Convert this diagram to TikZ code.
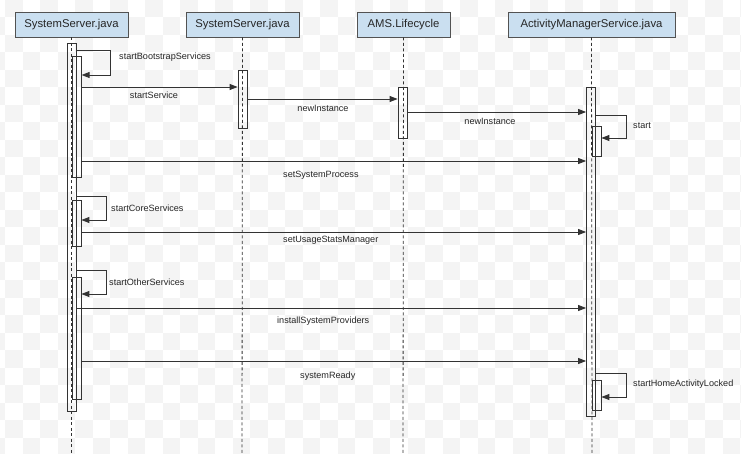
\documentclass[tikz,border=0pt]{standalone}
\usepackage{fontspec}
\setmainfont{Liberation Sans}
\usetikzlibrary{arrows.meta}
\definecolor{hdrfill}{HTML}{CADFF0}
\definecolor{ln}{HTML}{333333}
\definecolor{chk}{HTML}{F4F4F4}
\tikzset{
  hdr/.style={draw=ln!85, fill=hdrfill, line width=0.9pt, inner sep=0pt, minimum height=25, font=\fontsize{11.3}{13}\selectfont, text=black!85},
  life/.style={draw=ln, line width=0.8pt, dash pattern=on 3pt off 2.5pt},
  bar/.style={draw=ln, line width=0.8pt, inner sep=0pt, minimum width=9, rectangle},
  msg/.style={draw=ln, line width=0.9pt, -{Triangle[length=8pt,width=6pt]}},
  lbl/.style={font=\fontsize{9.1}{11}\selectfont, text=black!85, inner sep=0pt}
}
\begin{document}
\begin{tikzpicture}[x=1pt,y=-1pt]
\useasboundingbox (0,0) rectangle (741,454);
\fill[white] (0,0) rectangle (741,454);
% faint checker background
\begin{scope}
\clip (0,0) rectangle (741,454);
\foreach \i in {-1,...,42}{
  \foreach \j in {0,...,25}{
    \pgfmathtruncatemacro{\chkpar}{mod(\i+\j+2,2)}
    \ifnum\chkpar=0 \fill[chk] (5+\i*17.5,\j*17.5) rectangle ++(17.5,17.5); \fi
  }
}
\end{scope}
% headers
\node[hdr, minimum width=113] (h1) at (71.5,24.5) {SystemServer.java};
\node[hdr, minimum width=113] (h2) at (242.5,24.5) {SystemServer.java};
\node[hdr, minimum width=93] (h3) at (403.5,24.5) {AMS.Lifecycle};
\node[hdr, minimum width=167] (h4) at (591.5,24.5) {ActivityManagerService.java};
% lifeline ends
\coordinate (e1) at (71.5,454);
\coordinate (e2) at (242,454);
\coordinate (e3) at (403,454);
\coordinate (e4) at (592,454);
\draw[life] (h1.south) -- (e1);
\draw[life] (h2.south) -- (e2);
\draw[life] (h3.south) -- (e3);
\draw[life] (h4.south) -- (e4);
% activation bars
\node[bar, minimum height=368] (o1) at (72,227) {};
\node[bar, minimum height=121] (a1) at (76.7,116.5) {};
\node[bar, minimum height=46] (a2) at (76.5,223) {};
\node[bar, minimum height=122] (a3) at (76.5,338) {};
\node[bar, minimum height=58] (b2) at (242.5,99) {};
\node[bar, minimum height=51] (b3) at (402.5,112.5) {};
\node[bar, minimum height=329] (b4) at (591,251.5) {};
\node[bar, minimum height=30] (s1) at (596.5,141) {};
\node[bar, minimum height=30] (s2) at (596.5,395) {};
% self calls
\draw[msg] (o1.east |- 0,50) -| (110,75) -- (a1.east |- 0,75);
\node[lbl, anchor=west] (l1) at (119,57) {startBootstrapServices};
\draw[msg] (o1.east |- 0,196) -| (106,220) -- (a2.east |- 0,220);
\node[lbl, anchor=west] (l2) at (111,208) {startCoreServices};
\draw[msg] (o1.east |- 0,270) -| (106,294) -- (a3.east |- 0,294);
\node[lbl, anchor=west] (l3) at (109,282) {startOtherServices};
\draw[msg] (b4.east |- 0,115) -| (626,138) -- (s1.east |- 0,138);
\node[lbl, anchor=west] (l4) at (633,126) {start};
\draw[msg] (b4.east |- 0,373) -| (626,397) -- (s2.east |- 0,397);
\node[lbl, anchor=west] (l5) at (633,384) {startHomeActivityLocked};
% messages
\draw[msg] (a1.east |- 0,87) -- (b2.west |- 0,87);
\node[lbl] (m1) at (154,95) {startService};
\draw[msg] (b2.east |- 0,99) -- (b3.west |- 0,99);
\node[lbl] (m2) at (323,108) {newInstance};
\draw[msg] (b3.east |- 0,112) -- (b4.west |- 0,112);
\node[lbl] (m3) at (490,121) {newInstance};
\draw[msg] (a1.east |- 0,161) -- (b4.west |- 0,161);
\node[lbl, anchor=west] (m4) at (283,175) {setSystemProcess};
\draw[msg] (a2.east |- 0,232) -- (b4.west |- 0,232);
\node[lbl, anchor=west] (m5) at (283,240) {setUsageStatsManager};
\draw[msg] (o1.east |- 0,308) -- (b4.west |- 0,308);
\node[lbl, anchor=west] (m6) at (277,321) {installSystemProviders};
\draw[msg] (a3.east |- 0,361) -- (b4.west |- 0,361);
\node[lbl, anchor=west] (m7) at (300,376) {systemReady};
\end{tikzpicture}
\end{document}
